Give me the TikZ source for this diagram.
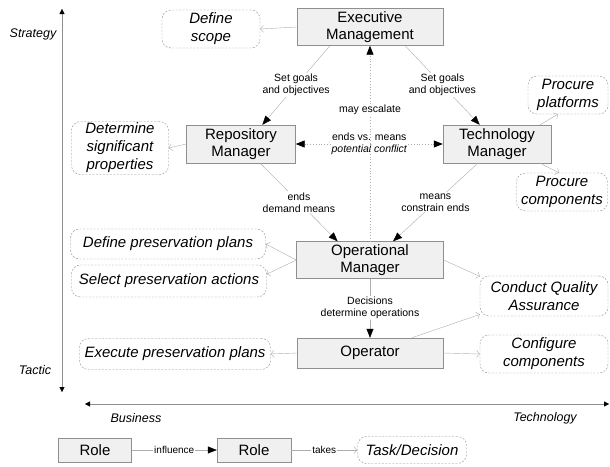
\documentclass[tikz,border=0pt]{standalone}
\usepackage{fontspec}
\setmainfont{Liberation Sans}
\usetikzlibrary{positioning}
\usetikzlibrary{arrows.meta}
\definecolor{boxfill}{rgb}{0.94,0.94,0.94}
\definecolor{edge}{rgb}{0.56,0.56,0.56}
\definecolor{link}{rgb}{0.68,0.68,0.68}

\begin{document}
\begin{tikzpicture}[x=1pt, y=-1pt,
		role/.style = {rectangle, draw=edge, fill=boxfill, align=center, inner sep=0pt, font=\fontsize{15}{17}\selectfont},
		task/.style = {rectangle, rounded corners=9pt, draw=edge, dash pattern=on 2pt off 1.5pt, fill=white, align=center, inner sep=0pt, font=\fontsize{15}{18}\selectfont\itshape},
		lbl/.style  = {fill=white, inner sep=1pt, align=center, font=\fontsize{10.5}{12}\selectfont},
		axl/.style  = {font=\fontsize{12.5}{14}\selectfont\itshape},
		infl/.style = {draw=link, -{Triangle[length=9pt, width=7pt, color=black]}},
		takes/.style = {draw=link, -{Straight Barb[length=3pt, width=7pt]}},
		dots/.style = {draw=link, dotted, thick},
		axis/.style = {draw=edge, {Triangle[length=5pt, width=5pt, color=black]}-{Triangle[length=5pt, width=5pt, color=black]}}
		]
		\useasboundingbox (0,0) rectangle (610,466);
		
		%Axes
		\coordinate (vtop)	at	(62, 9);
		\coordinate (vbot)	at	(62, 392);
		\coordinate (hlft)	at	(85, 404);
		\coordinate (hrgt)	at	(609, 404);
		\draw[axis]	(vbot) -- (vtop);
		\draw[axis]	(hlft) -- (hrgt);
		\node[axl]	(strat)	at	(33, 34)	{Strategy};
		\node[axl]	(tact)	at	(35, 370)	{Tactic};
		\node[axl]	(bus)	at	(136, 418)	{Business};
		\node[axl]	(tech)	at	(545, 418)	{Technology};
		
		%Nodes
		\node[role, minimum width=146, minimum height=37]	(exec)	at	(370, 27)	{Executive\\Management};
		\node[role, minimum width=109, minimum height=38]	(repo)	at	(241, 144)	{Repository\\Manager};
		\node[role, minimum width=108, minimum height=38]	(techm)	at	(497, 144)	{Technology\\Manager};
		\node[role, minimum width=147, minimum height=37]	(oper)	at	(370, 260)	{Operational\\Manager};
		\node[role, minimum width=146, minimum height=30]	(optr)	at	(370, 353)	{Operator};
		
		\node[task, minimum width=98, minimum height=38]	(scope)	at	(211, 29)	{Define\\scope};
		\node[task, minimum width=97, minimum height=53]	(props)	at	(120, 148)	{Determine\\significant\\properties};
		\node[task, minimum width=80, minimum height=38]	(platf)	at	(568, 95)	{Procure\\platforms};
		\node[task, minimum width=91, minimum height=38]	(comps)	at	(562, 192)	{Procure\\components};
		\node[task, minimum width=195, minimum height=30]	(plans)	at	(168, 244)	{Define preservation plans};
		\node[task, minimum width=195, minimum height=32]	(acts)	at	(169, 281)	{Select preservation actions};
		\node[task, minimum width=128, minimum height=40]	(qa)	at	(544, 296)	{Conduct Quality\\Assurance};
		\node[task, minimum width=128, minimum height=38]	(conf)	at	(544, 354)	{Configure\\components};
		\node[task, minimum width=191, minimum height=31]	(exe)	at	(175, 354)	{Execute preservation plans};
		
		%Legend
		\node[role, minimum width=73, minimum height=24]	(leg1)	at	(95, 450)	{Role};
		\node[role, minimum width=74, minimum height=24]	(leg2)	at	(254, 450)	{Role};
		\node[task, minimum width=109, minimum height=27]	(leg3)	at	(412, 450)	{Task/Decision};
		
		%Lines
		\draw[infl]	(exec.205)	to	node[lbl]	{Set goals\\and objectives}	(repo.42);
		\draw[infl]	(exec.332)	to	node[lbl]	{Set goals\\and objectives}	(techm.132);
		\draw[infl]	(repo.315)	to	node[lbl]	{ends\\demand means}	(oper.150);
		\draw[infl]	(techm.225)	to	node[lbl]	{means\\constrain ends}	(oper.39);
		\draw[infl]	(oper.south)	to	node[lbl]	{Decisions\\determine operations}	(optr.north);
		\draw[dots, {Triangle[length=9pt, width=7pt, color=black]}-{Triangle[length=9pt, width=7pt, color=black]}]
			(repo.east)	to	node[lbl]	{ends vs. means\\\itshape potential conflict}	(techm.west);
		\draw[dots, -{Triangle[length=9pt, width=7pt, color=black]}]
			(oper.north)	to	node[lbl, pos=0.67]	{may escalate}	(exec.south);
		
		\draw[takes]	(exec.west)	to	(scope.east);
		\draw[takes]	(repo.west)	to	(props.east);
		\draw[takes]	(techm.24)	to	(platf.242);
		\draw[takes]	(techm.336)	to	(comps.99);
		\draw[takes]	(oper.west)	to	(plans.east);
		\draw[takes]	(oper.west)	to	(acts.4);
		\draw[takes]	(oper.east)	to	(qa.163);
		\draw[takes]	(optr.west)	to	(exe.east);
		\draw[takes]	(optr.20)	to	(qa.196);
		\draw[takes]	(optr.east)	to	(conf.west);
		
		\draw[infl]	(leg1.east)	to	node[lbl, font=\fontsize{10}{12}\selectfont]	{influence}	(leg2.west);
		\draw[takes]	(leg2.east)	to	node[lbl, font=\fontsize{10}{12}\selectfont]	{takes}	(leg3.west);
	\end{tikzpicture}
\end{document}
